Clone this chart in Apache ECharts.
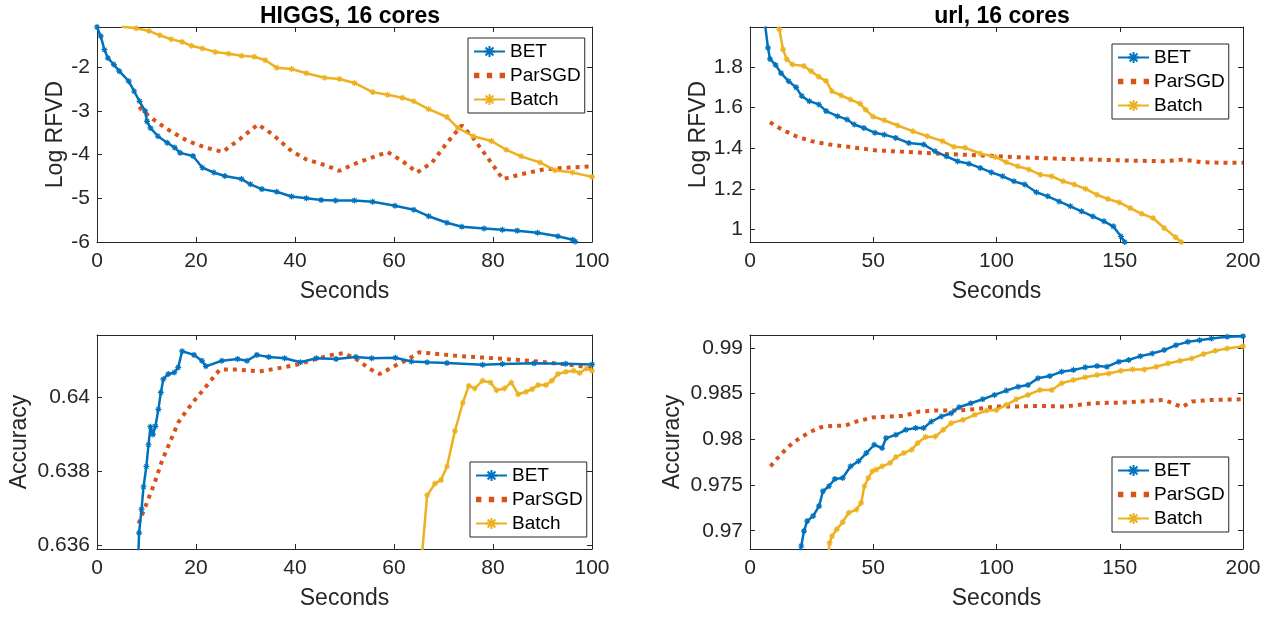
<!DOCTYPE html>
<html>
<head>
<meta charset="utf-8">
<script src="https://cdn.jsdelivr.net/npm/echarts@6/dist/echarts.min.js"></script>
<style>
html,body{margin:0;padding:0;background:#fff;}
#chart{width:1283px;height:617px;}
</style>
</head>
<body>
<div id="chart"></div>
<script>
// ---------- Data ----------
const seriesNames = ['BET', 'ParSGD', 'Batch'];
const panelTitles = ['HIGGS, 16 cores', 'url, 16 cores'];

const higgsRfvdBet = [[0,-1.08],[0.75,-1.29],[1.5,-1.6],[2.2,-1.79],[3.4,-1.94],[4.5,-2.09],[6.4,-2.32],[7.5,-2.55],[8.6,-2.78],[9.7,-3.0],[10.1,-3.24],[10.8,-3.39],[12.3,-3.58],[14.2,-3.73],[15.7,-3.84],[16.8,-3.96],[19.4,-4.03],[21.3,-4.3],[23.6,-4.41],[25.8,-4.49],[29.2,-4.56],[31,-4.68],[33.3,-4.79],[36.3,-4.85],[39.3,-4.96],[42.3,-5.0],[45.3,-5.04],[48.2,-5.05],[52,-5.05],[55.7,-5.08],[60.2,-5.17],[64,-5.26],[67,-5.41],[70.7,-5.56],[73.7,-5.65],[78.2,-5.69],[81.9,-5.72],[84.9,-5.74],[89,-5.79],[93.1,-5.87],[96.1,-5.95],[96.6,-5.99]];
const higgsRfvdParSGD = [[8.5,-2.91],[10.5,-3.12],[13.8,-3.39],[18.3,-3.69],[22,-3.84],[25.4,-3.94],[28.8,-3.65],[32.5,-3.31],[35.5,-3.54],[39.3,-3.92],[42.3,-4.11],[46,-4.24],[49,-4.37],[52.7,-4.18],[58.7,-3.94],[61.7,-4.15],[64.7,-4.41],[67.7,-4.18],[70.7,-3.73],[73.7,-3.33],[76,-3.62],[78.2,-3.96],[82,-4.56],[85.7,-4.45],[90.2,-4.34],[94.7,-4.3],[100,-4.27]];
const higgsRfvdBatch = [[4.9,-1.07],[7.9,-1.11],[10.5,-1.17],[12.7,-1.27],[15,-1.36],[17.2,-1.42],[19.1,-1.51],[21.3,-1.57],[23.9,-1.65],[26.6,-1.69],[29.2,-1.74],[31.8,-1.76],[34,-1.84],[36.3,-2.01],[39.3,-2.04],[42.3,-2.14],[46,-2.24],[49,-2.27],[52,-2.36],[55.7,-2.57],[58.7,-2.63],[61.7,-2.7],[64,-2.78],[67,-2.96],[70.7,-3.14],[72.9,-3.39],[76,-3.58],[79.7,-3.69],[82.7,-3.89],[85.7,-4.04],[89.5,-4.18],[92.5,-4.36],[96.1,-4.41],[100,-4.51]];

const urlRfvdBet = [[6.2,2.0],[7.3,1.895],[8.1,1.84],[10.4,1.81],[12.6,1.77],[15.7,1.73],[18.7,1.70],[21,1.657],[24.1,1.632],[27.9,1.616],[30.9,1.583],[35.5,1.558],[39.3,1.542],[42.3,1.517],[46.2,1.5],[50.7,1.476],[54.5,1.467],[59.1,1.451],[64.4,1.426],[70.5,1.418],[75.1,1.385],[79.7,1.36],[84.2,1.336],[88.8,1.324],[93.4,1.303],[97.9,1.281],[102.5,1.262],[107.1,1.237],[111.5,1.221],[116.2,1.183],[120.8,1.163],[125.4,1.138],[130,1.114],[134.5,1.089],[139.1,1.064],[143.6,1.04],[147.4,1.015],[150.5,0.965],[152,0.938]];
const urlRfvdParSGD = [[8.1,1.528],[12.6,1.495],[18.7,1.459],[24.8,1.435],[32.4,1.418],[40,1.407],[50.7,1.39],[62.9,1.382],[78.1,1.372],[93.4,1.365],[108.6,1.356],[123.8,1.349],[139,1.344],[154.3,1.339],[168,1.336],[175.6,1.344],[183.2,1.331],[192.4,1.328],[200,1.328]];
const urlRfvdBatch = [[11.9,1.986],[13.4,1.887],[14.9,1.838],[17.2,1.813],[21.8,1.805],[24.8,1.78],[27.9,1.752],[30.9,1.731],[33.2,1.681],[37,1.66],[40.8,1.64],[44.6,1.62],[46.9,1.59],[50,1.555],[54.5,1.538],[59.9,1.512],[66,1.484],[72,1.459],[78.1,1.435],[82.7,1.407],[87.3,1.402],[93.4,1.374],[99.5,1.357],[104,1.331],[108.6,1.311],[113.2,1.295],[117.8,1.27],[122.4,1.262],[127,1.237],[131.6,1.221],[136.1,1.2],[140.7,1.171],[145.2,1.15],[149.8,1.133],[154.3,1.105],[158.9,1.077],[163.5,1.056],[168,1.007],[172.6,0.962],[174.9,0.938]];

const higgsAccBet = [[8.3,0.6355],[8.5,0.63633],[9,0.63697],[9.4,0.63758],[9.97,0.63813],[10.4,0.63872],[10.8,0.63921],[11.3,0.639],[11.8,0.63922],[12.4,0.63968],[12.9,0.64014],[13.4,0.6405],[14.4,0.64064],[15.6,0.64068],[16.4,0.64082],[17.2,0.64126],[19.6,0.64116],[21.2,0.641],[22,0.64085],[25.2,0.641],[28.4,0.64105],[30.3,0.641],[32.3,0.64116],[34.7,0.6411],[37.9,0.64107],[41.1,0.64096],[44.3,0.64107],[48.3,0.64105],[52.3,0.6411],[55.5,0.64107],[60.3,0.64108],[63.5,0.64098],[66.7,0.64096],[70.7,0.64094],[77.9,0.64089],[81.9,0.64091],[88.3,0.64093],[94.7,0.64092],[100,0.6409]];
const higgsAccParSGD = [[8.4,0.63658],[10,0.63712],[11.6,0.63767],[13.2,0.63831],[14.8,0.63881],[16.4,0.63932],[18,0.63963],[19.6,0.63991],[21.6,0.64023],[23.2,0.6405],[24.8,0.64076],[28.4,0.64076],[32.8,0.64071],[36.3,0.64079],[40.3,0.64089],[44.3,0.64105],[47.5,0.64116],[49.9,0.64121],[52.3,0.64105],[55.1,0.64078],[57.1,0.64064],[60.3,0.64087],[62.7,0.64103],[65.1,0.64123],[68.3,0.64119],[72.3,0.64114],[76.3,0.6411],[80.3,0.64107],[84.3,0.64103],[89.1,0.64098],[93.9,0.64091],[97,0.64087],[100,0.64079]];
const higgsAccBatch = [[65.5,0.6355],[66.7,0.63735],[68.3,0.63767],[69.5,0.63776],[70.7,0.63813],[72.3,0.63909],[73.9,0.63986],[75.1,0.64032],[76.3,0.64025],[77.9,0.64046],[79.5,0.64041],[80.7,0.6402],[82.3,0.64025],[83.7,0.64041],[85.1,0.64009],[86.7,0.64016],[87.9,0.64023],[89.1,0.64034],[90.7,0.64034],[91.9,0.64046],[93.1,0.64064],[94.7,0.6407],[96.3,0.64073],[97.5,0.64067],[98.9,0.64079],[100,0.64073]];

const urlAccBet = [[20.2,0.9675],[20.8,0.96833],[21.9,0.96996],[23.2,0.97105],[25.6,0.9716],[28,0.97269],[29.6,0.97432],[32,0.97486],[34.4,0.97566],[37.6,0.97577],[40.8,0.97704],[44,0.97759],[47.2,0.97849],[50.4,0.9794],[53.6,0.97904],[55.2,0.98013],[59.2,0.98049],[63.2,0.98103],[67.2,0.98122],[70.4,0.98122],[73.6,0.98194],[77.6,0.98249],[81.6,0.98285],[84.8,0.9835],[89.6,0.98394],[94.4,0.98437],[99.2,0.98485],[104,0.98532],[108.8,0.98575],[112.8,0.98593],[116.8,0.98666],[121.6,0.98691],[126.4,0.98739],[131.2,0.98757],[136,0.98786],[140.8,0.988],[144.8,0.98793],[149.6,0.98848],[153.6,0.98866],[158.4,0.98909],[163.2,0.98938],[168,0.98975],[172.8,0.99029],[177.6,0.99065],[182.4,0.99083],[187.2,0.99102],[193.6,0.9912],[200,0.99127]];
const urlAccParSGD = [[8.3,0.97704],[11.2,0.97795],[14.4,0.97886],[17.6,0.97966],[20.8,0.98024],[24.8,0.98085],[28.8,0.98132],[33.6,0.98147],[38.4,0.98147],[43.2,0.98194],[49.6,0.98238],[56,0.98249],[62.4,0.98256],[68.8,0.98303],[75.2,0.98314],[83.2,0.98314],[91.2,0.98328],[99.2,0.98358],[107.2,0.98358],[116.8,0.98365],[128,0.98358],[139.2,0.98394],[150.4,0.98401],[161.6,0.98419],[168,0.9843],[172,0.98387],[175.2,0.9835],[179.2,0.98412],[187.2,0.9843],[200,0.98437]];
const urlAccBatch = [[31.8,0.9675],[32.3,0.96869],[33.3,0.96942],[35.2,0.97015],[37.6,0.97094],[40,0.97196],[43.2,0.97232],[45.1,0.97305],[46.4,0.97486],[48,0.97577],[49.6,0.9765],[51.2,0.97668],[53.6,0.97704],[56.8,0.9774],[59.2,0.97806],[62.4,0.97849],[65.6,0.97886],[68,0.97958],[71.2,0.98024],[75.2,0.98031],[78.4,0.98103],[81.6,0.98176],[86.4,0.98212],[91.2,0.98267],[96,0.98314],[100,0.98321],[104,0.98376],[108,0.98437],[112.8,0.98485],[117.6,0.98539],[122.4,0.98539],[126.4,0.98612],[131.2,0.98648],[136,0.98677],[140.8,0.98702],[145.6,0.9872],[150.4,0.9875],[155.2,0.98764],[160,0.98764],[164.8,0.98793],[169.6,0.98829],[174.4,0.98858],[179.2,0.98884],[184,0.98931],[188.8,0.98967],[193.6,0.98993],[200,0.99018]];

// ---------- Styling ----------
const colors = {BET:'#0072BD', ParSGD:'#D95319', Batch:'#EDB120'};
const AX = '#262626';
const FONT = 'Liberation Sans, Arial, Helvetica, sans-serif';
const STAR = 'path://M5,0L5,10M0,5L10,5M1.5,1.5L8.5,8.5M1.5,8.5L8.5,1.5';
const DOTS = 'path://M1,0h5v5h-5zM13,0h5v5h-5zM25,0h5v5h-5z';

const grids = [
  {left:97, top:27, width:495, height:215},
  {left:750, top:27, width:493, height:215},
  {left:97, top:335, width:495, height:214},
  {left:750, top:335, width:493, height:214}
];
const panels = [
  {x:{min:0,max:100,interval:20}, y:{min:-6,max:-1.08,interval:1,step:1}, yName:'Log RFVD', yGap:28, data:[higgsRfvdBet,higgsRfvdParSGD,higgsRfvdBatch], legend:{left:468,top:38}},
  {x:{min:0,max:200,interval:50}, y:{min:0.938,max:1.9975,splitNumber:5,step:0.2}, yName:'Log RFVD', yGap:34, data:[urlRfvdBet,urlRfvdParSGD,urlRfvdBatch], legend:{left:1112,top:44}},
  {x:{min:0,max:100,interval:20}, y:{min:0.63589,max:0.6417,splitNumber:3,step:0.002}, yName:'Accuracy', yGap:66, data:[higgsAccBet,higgsAccParSGD,higgsAccBatch], legend:{left:470,top:462}},
  {x:{min:0,max:200,interval:50}, y:{min:0.968,max:0.9914,splitNumber:5,step:0.005}, yName:'Accuracy', yGap:66, data:[urlAccBet,urlAccParSGD,urlAccBatch], legend:{left:1112,top:457}}
];

function fmt(step){
  return function(v){
    const r = v/step;
    if (Math.abs(r - Math.round(r)) > 1e-6) return '';
    return String(+v.toFixed(4));
  };
}

const xAxes = [], yAxes = [], series = [], legends = [], titles = [];
panels.forEach((p, i) => {
  const common = {axisLine:{show:true,onZero:false,lineStyle:{color:AX,width:1}}, splitLine:{show:false}};
  xAxes.push(Object.assign({type:'value', gridIndex:i, position:'bottom', min:p.x.min, max:p.x.max, interval:p.x.interval,
    name:'Seconds', nameLocation:'middle', nameGap:38, nameTextStyle:{fontFamily:FONT,fontSize:23,color:AX},
    axisTick:{inside:true,length:5,lineStyle:{color:AX}},
    axisLabel:{fontFamily:FONT,fontSize:21,color:AX,margin:9}}, common));
  xAxes.push(Object.assign({type:'value', gridIndex:i, position:'top', min:p.x.min, max:p.x.max, interval:p.x.interval,
    axisTick:{inside:true,length:5,lineStyle:{color:AX}}, axisLabel:{show:false}}, common));
  const yBase = {type:'value', gridIndex:i, min:p.y.min, max:p.y.max};
  if (p.y.interval) yBase.interval = p.y.interval; else yBase.splitNumber = p.y.splitNumber;
  yAxes.push(Object.assign({}, yBase, {position:'left',
    name:p.yName, nameLocation:'middle', nameGap:p.yGap, nameRotate:90, nameTextStyle:{fontFamily:FONT,fontSize:23,color:AX},
    axisTick:{inside:true,length:5,lineStyle:{color:AX}},
    axisLabel:{fontFamily:FONT,fontSize:21,color:AX,margin:7,formatter:fmt(p.y.step)}}, common));
  yAxes.push(Object.assign({}, yBase, {position:'right',
    axisTick:{inside:true,length:5,lineStyle:{color:AX}}, axisLabel:{show:false}}, common));

  seriesNames.forEach((name, k) => {
    const isDot = name === 'ParSGD';
    series.push({
      name: name, type:'line', xAxisIndex:2*i, yAxisIndex:2*i, data:p.data[k],
      clip:true, animation:false, z: isDot ? 2 : 3,
      showSymbol: !isDot, showAllSymbol:true, symbol: isDot ? 'none' : STAR, symbolSize: 6,
      lineStyle: isDot ? {color:colors[name], width:4, type:[4,5], cap:'butt'} : {color:colors[name], width:2.5},
      itemStyle: {color:colors[name], borderColor:colors[name], borderWidth:1.2}
    });
  });

  legends.push({
    data: seriesNames.map(n => n === 'ParSGD' ? {name:n, icon:DOTS, itemStyle:{color:colors[n], borderWidth:0}} : {name:n}),
    orient:'vertical', left:p.legend.left, top:p.legend.top,
    padding:[4,4,4,5], itemGap:5, itemWidth:31, itemHeight:14,
    backgroundColor:'#fff', borderColor:AX, borderWidth:1,
    textStyle:{fontFamily:FONT,fontSize:19,color:'#000'},
    selectedMode:false
  });
});

titles.push({text:panelTitles[0], left:345, top:0, textAlign:'center', textStyle:{fontFamily:FONT,fontSize:23,fontWeight:'bold',color:'#000'}});
titles.push({text:panelTitles[1], left:997, top:0, textAlign:'center', textStyle:{fontFamily:FONT,fontSize:23,fontWeight:'bold',color:'#000'}});

const chart = echarts.init(document.getElementById('chart'), null, {renderer:'canvas'});
chart.setOption({
  backgroundColor:'#fff',
  animation:false,
  title: titles,
  grid: grids,
  xAxis: xAxes,
  yAxis: yAxes,
  legend: legends,
  series: series
});
</script>
</body>
</html>
